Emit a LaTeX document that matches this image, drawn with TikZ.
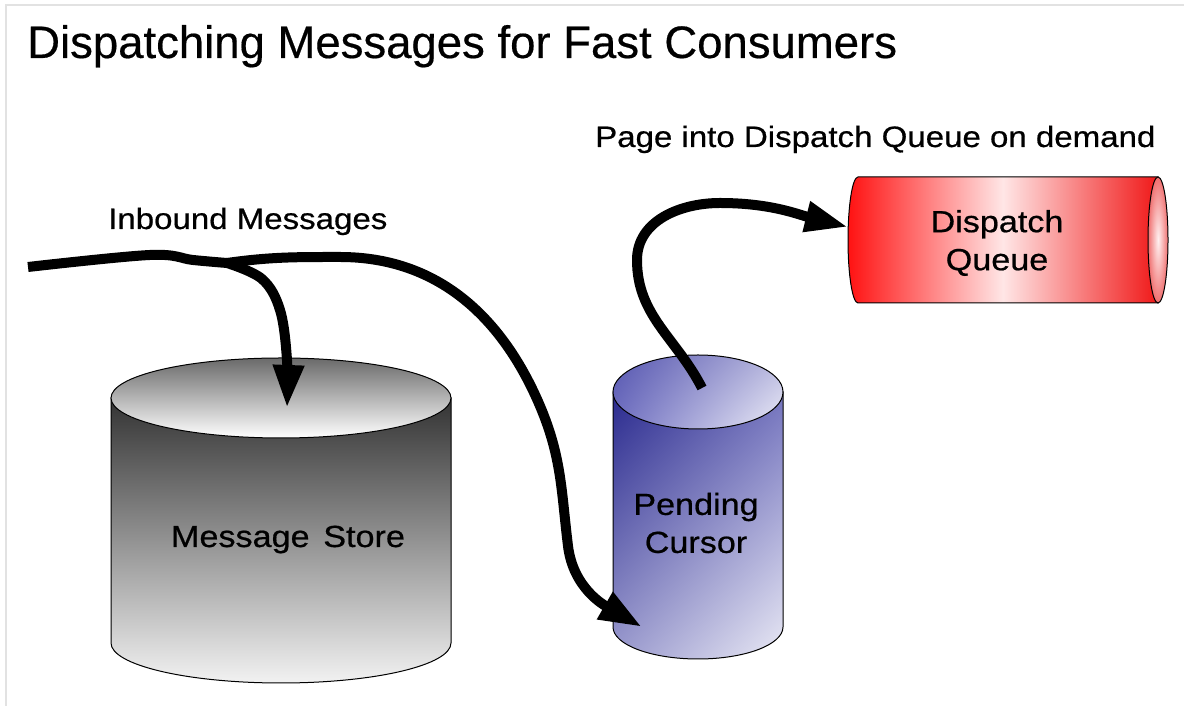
\documentclass[tikz,border=0pt]{standalone}
\usepackage{fontspec}
\setmainfont{Liberation Sans}[FakeBold=0.4]
\newfontfamily\lblfont{Liberation Sans}[FakeStretch=1.12,FakeBold=0.6]
\usetikzlibrary{arrows.meta,shadings}
\definecolor{framegray}{HTML}{E2E2E2}
\definecolor{msTop}{HTML}{6A6A6A}
\definecolor{msDark}{HTML}{333333}
\definecolor{msLight}{HTML}{F2F2F2}
\definecolor{pcA}{HTML}{2A2A8E}
\definecolor{pcB}{HTML}{7474BE}
\definecolor{pcC}{HTML}{9A9ACE}
\definecolor{pcD}{HTML}{EAEAF5}
\definecolor{ptA}{HTML}{5656B0}
\definecolor{ptB}{HTML}{7272C2}
\definecolor{ptC}{HTML}{B8B8DE}
\definecolor{ptD}{HTML}{EEEEF8}
\definecolor{dqL}{HTML}{FF1212}
\definecolor{dqM}{HTML}{FFE6E6}
\definecolor{dqR}{HTML}{F01818}
\definecolor{dqIn}{HTML}{FFF0F0}
\definecolor{dqOut}{HTML}{F07070}
\begin{document}
\begin{tikzpicture}[x=1pt,y=1pt,
  flow/.style={line width=10pt, black, line join=round},
  tipA/.style={-{Triangle[length=43pt,width=29pt]}},
  outline/.style={draw=black, line width=1pt},
  titletext/.style={inner sep=0pt, font=\fontsize{45.5}{50}\selectfont},
  lbl/.style={inner sep=0pt, font=\lblfont\fontsize{29.5}{36}\selectfont},
  clbl/.style={inner sep=0pt, align=center, font=\lblfont\fontsize{30.5}{38}\selectfont}]
\useasboundingbox (0,0) rectangle (1184,706);
% frame
\draw[framegray, line width=2pt] (6,0) -- (6,701) -- (1184,701);

% Message Store cylinder
\shadedraw[outline, top color=msDark, bottom color=msLight]
  (111,308) -- (111,63) arc[start angle=180,end angle=360,x radius=170,y radius=40] -- (451,308) -- cycle;
\shadedraw[outline, top color=msTop, bottom color=white]
  (281,308) ellipse[x radius=170,y radius=40];

% Pending Cursor cylinder
\shadedraw[outline, upper left=pcA, upper right=pcB, lower left=pcC, lower right=pcD]
  (613,314) -- (613,79) arc[start angle=180,end angle=360,x radius=85,y radius=32] -- (783,314) -- cycle;
\shadedraw[outline, upper left=ptA, lower left=ptB, upper right=ptC, lower right=ptD]
  (698,314) ellipse[x radius=85,y radius=37];

% Dispatch Queue cylinder
\shadedraw[outline, left color=dqL, right color=dqR, middle color=dqM]
  (858,529) -- (1158,529) -- (1158,403) -- (858,403)
  arc[start angle=270,end angle=90,x radius=10,y radius=63] -- cycle;
\shadedraw[outline, inner color=dqIn, outer color=dqOut]
  (1158,466) ellipse[x radius=10,y radius=63];

% texts
\node[titletext, anchor=base west] (title) at (27,648) {Dispatching Messages for Fast Consumers};
\node[lbl, anchor=base west] (inbound) at (108,477) {Inbound Messages};
\node[lbl, anchor=base west] (page) at (595,559) {Page into Dispatch Queue on demand};
\node[clbl, anchor=base] (store) at (288,159) {Message\hspace{0.45em}Store};
\node[clbl] (pending) at (696,183) {Pending\\Cursor};
\node[clbl] (dispatch) at (997,463) {Dispatch\\Queue};

% connector points
\coordinate (in) at (28,439);
\coordinate (j) at (227,443);
\coordinate (msin) at (287,298);
\coordinate (pcin) at (642,79);
\coordinate (pcout) at (702,318);
\coordinate (dqin) at (848,479);

% connectors
\draw[flow] plot[smooth, tension=0.6] coordinates {(in) (150,451) (193,446) (j)};
\draw[flow, tipA] plot[smooth, tension=0.6] coordinates {(j) (262,427) (280,396) (287,346) (msin)};
\draw[flow, tipA] (j) to[out=8, in=180] (340,449)
  to[out=0, in=113] (540,300)
  to[out=-67, in=97] (568,160)
  to[out=-83, in=150] (pcin);
\draw[flow, tipA] (pcout) to[out=117, in=-90] (637,446)
  to[out=90, in=180] (720,503)
  to[out=0, in=166] (dqin);
\end{tikzpicture}
\end{document}
